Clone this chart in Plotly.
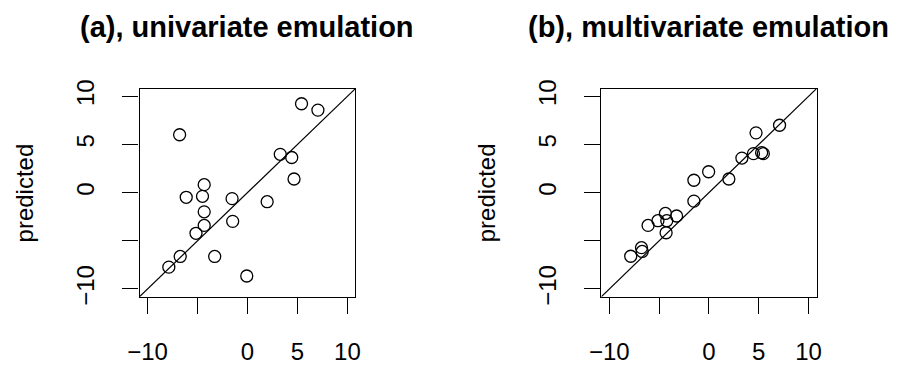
import plotly.graph_objects as go

# ---- data ----
obs_a = [5.41, 7.05, -6.79, 3.28, 4.43, 4.66, -4.33, -6.13, -4.5, -1.54,
         1.97, -4.33, -1.48, -4.33, -5.15, -6.73, -3.28, -7.87, -0.07]
pred_a = [9.23, 8.57, 6.01, 3.98, 3.65, 1.42, 0.83, -0.48, -0.38, -0.62,
          -0.94, -1.99, -2.98, -3.40, -4.22, -6.62, -6.62, -7.73, -8.65]

obs_b = [7.09, 4.73, 4.47, 5.29, 5.46, 3.31, -0.03, -1.51, 2.0, -1.51,
         -4.37, -3.25, -5.12, -4.23, -6.11, -4.30, -6.77, -6.7, -7.85]
pred_b = [7.0, 6.21, 4.05, 4.15, 4.05, 3.59, 2.17, 1.29, 1.42, -0.88,
          -2.16, -2.42, -2.91, -2.91, -3.40, -4.16, -5.71, -6.1, -6.6]

tick_vals = [-10, -5, 0, 5, 10]
tick_text = ["\u221210", "", "0", "5", "10"]
titles = ["(a), univariate emulation", "(b), multivariate emulation"]
ylab = "predicted"
lim = [-10.8, 10.8]

FONT = "Liberation Sans, Arial, sans-serif"
W, H = 900, 365

fig = go.Figure()
panels = [(obs_a, pred_a, "x", "y"), (obs_b, pred_b, "x2", "y2")]
for xs, ys, xa, ya in panels:
    fig.add_trace(go.Scatter(
        x=xs, y=ys, mode="markers", xaxis=xa, yaxis=ya,
        marker=dict(symbol="circle-open", size=12, color="black",
                    line=dict(width=1.3, color="black")),
        showlegend=False, hoverinfo="skip"))
    fig.add_trace(go.Scatter(
        x=lim, y=lim, mode="lines", xaxis=xa, yaxis=ya,
        line=dict(color="black", width=1.2),
        showlegend=False, hoverinfo="skip"))

ydom = [(365 - 303.5) / H, (365 - 84) / H]
xdoms = [[130 / W, 350 / W], [600.7 / W, 820 / W]]

axis_common = dict(
    range=lim, showgrid=False, zeroline=False, showline=True,
    linecolor="black", linewidth=1.3, mirror=True,
    ticks="outside", ticklen=16, tickwidth=1.3, tickcolor="black",
    tickvals=tick_vals, ticktext=tick_text,
    tickfont=dict(family=FONT, size=24, color="black"),
)

layout = dict(
    width=W, height=H, margin=dict(l=0, r=0, t=0, b=0),
    paper_bgcolor="white", plot_bgcolor="white",
    font=dict(family=FONT, color="black"),
)
for i, suf in enumerate(["", "2"]):
    layout["xaxis" + suf] = dict(axis_common, domain=xdoms[i],
                                 anchor="y" + suf, ticklabelstandoff=17)
    layout["yaxis" + suf] = dict(axis_common, domain=ydom,
                                 anchor="x" + suf, tickangle=-90,
                                 ticklabelstandoff=19)
fig.update_layout(**layout)

annots = []
for i, suf in enumerate(["", "2"]):
    cx = (xdoms[i][0] + xdoms[i][1]) / 2
    annots.append(dict(text="<b>" + titles[i] + "</b>", x=cx, y=1 - 19 / H,
                       xref="paper", yref="paper", showarrow=False,
                       xanchor="center", yanchor="middle",
                       font=dict(family=FONT, size=29, color="black")))
    annots.append(dict(text=ylab, x=xdoms[i][0] - 117 / W, y=(ydom[0] + ydom[1]) / 2,
                       xref="paper", yref="paper", showarrow=False,
                       xanchor="center", yanchor="middle", textangle=-90,
                       font=dict(family=FONT, size=24, color="black")))
fig.update_layout(annotations=annots)

fig.write_html("out.html")
